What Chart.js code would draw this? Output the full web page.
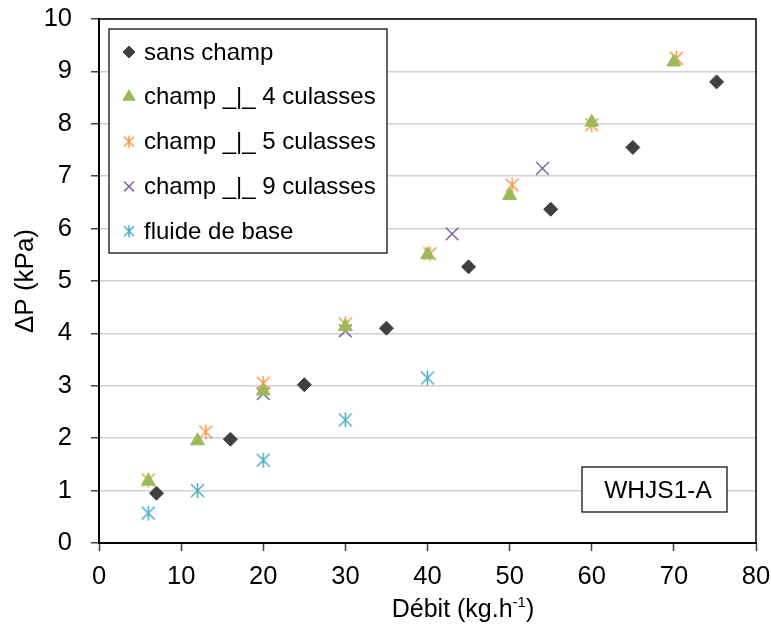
<!DOCTYPE html>
<html>
<head>
<meta charset="utf-8">
<script src="https://cdn.jsdelivr.net/npm/chart.js@4.4.0/dist/chart.umd.min.js"></script>
<style>
  html, body { margin: 0; padding: 0; background: #fff; }
  #wrap { width: 771px; height: 627px; position: relative; }
</style>
</head>
<body>
<div id="wrap"><canvas id="chart"></canvas></div>
<script>
// Débit (kg.h-1) / ΔP (kPa)
const sansChampX = [7, 16, 25, 35, 45, 55, 65, 75.2]
const sansChampY = [0.95, 1.98, 3.02, 4.1, 5.27, 6.37, 7.55, 8.8]

const champ4X = [6, 12, 20, 30, 40, 50, 60, 70]
const champ4Y = [1.18, 1.95, 2.9, 4.13, 5.5, 6.63, 8.03, 9.18]

const champ5X = [6, 13, 20, 30, 40.3, 50.3, 60, 70.3]
const champ5Y = [1.2, 2.12, 3.05, 4.18, 5.52, 6.83, 7.98, 9.25]

const champ9X = [20, 30, 43, 54]
const champ9Y = [2.85, 4.05, 5.9, 7.15]

const fluideX = [6, 12, 20, 30, 40]
const fluideY = [0.57, 1.0, 1.58, 2.35, 3.15]

const seriesLabels = [
  "sans champ",
  "champ _|_ 4 culasses",
  "champ _|_ 5 culasses",
  "champ _|_ 9 culasses",
  "fluide de base",
]

const FONT = '"Liberation Sans", Arial, sans-serif'

const toPoints = (xs, ys) => xs.map((x, i) => ({ x, y: ys[i] }))

// Excel style "star" marker: an x with a vertical bar
function starMarker(color, size) {
  const c = document.createElement("canvas")
  c.width = size
  c.height = size
  const g = c.getContext("2d")
  const m = size / 2
  const d = size / 2 - 2
  g.strokeStyle = color
  g.lineWidth = 1.5
  g.beginPath()
  g.moveTo(m, m - d - 1); g.lineTo(m, m + d + 1)
  g.moveTo(m - d, m - d); g.lineTo(m + d, m + d)
  g.moveTo(m + d, m - d); g.lineTo(m - d, m + d)
  g.stroke()
  return c
}

const orangeStar = starMarker("#F79646", 17)
const cyanStar = starMarker("#4BACC6", 17)
const orangeStarSmall = starMarker("#F79646", 14)
const cyanStarSmall = starMarker("#4BACC6", 14)

// frame around the plot, legend box, sample label, x title with superscript
const extras = {
  id: "extras",
  afterDraw(chart) {
    const ctx = chart.ctx
    const a = chart.chartArea
    ctx.save()
    ctx.strokeStyle = "#000"
    ctx.lineWidth = 1.5
    ctx.strokeRect(a.left, a.top, a.right - a.left, a.bottom - a.top)

    // legend
    ctx.fillStyle = "#fff"
    ctx.fillRect(109, 29, 278, 224)
    ctx.lineWidth = 1.2
    ctx.strokeRect(109, 29, 278, 224)
    ctx.font = "24px " + FONT
    ctx.textBaseline = "middle"
    const smallStyles = ["rectRot", "triangle", orangeStarSmall, "crossRot", cyanStarSmall]
    const radii = [6, 7, 6, 7, 6]
    chart.data.datasets.forEach((ds, i) => {
      const y = 52 + i * 44.8
      ctx.fillStyle = ds.backgroundColor
      ctx.strokeStyle = ds.borderColor
      ctx.lineWidth = ds.borderWidth
      Chart.helpers.drawPoint(ctx, { pointStyle: smallStyles[i], radius: radii[i], rotation: 0, borderWidth: ds.borderWidth }, 129, y)
      ctx.fillStyle = "#000"
      ctx.fillText(ds.label, 144, y + 1)
    })

    // sample label
    ctx.fillStyle = "#fff"
    ctx.fillRect(582, 467, 145, 45)
    ctx.strokeStyle = "#000"
    ctx.lineWidth = 1.2
    ctx.strokeRect(582, 467, 145, 45)
    ctx.fillStyle = "#000"
    ctx.textAlign = "center"
    ctx.font = "24.5px " + FONT
    ctx.fillText("WHJS1-A", 658, 491)

    // x axis title: Débit (kg.h-1)
    ctx.textAlign = "left"
    ctx.textBaseline = "alphabetic"
    const main = "Débit (kg.h"
    const sup = "-1"
    const close = ")"
    ctx.font = "25px " + FONT
    const w1 = ctx.measureText(main).width
    const w3 = ctx.measureText(close).width
    ctx.font = "15px " + FONT
    const w2 = ctx.measureText(sup).width
    let x = 463 - (w1 + w2 + w3) / 2
    const base = 617
    ctx.font = "25px " + FONT
    ctx.fillText(main, x, base)
    x += w1
    ctx.font = "15px " + FONT
    ctx.fillText(sup, x, base - 10)
    x += w2
    ctx.font = "25px " + FONT
    ctx.fillText(close, x, base)
    ctx.restore()
  },
}

const ctx = document.getElementById("chart").getContext("2d")

new Chart(ctx, {
  type: "scatter",
  data: {
    datasets: [
      {
        label: seriesLabels[0],
        data: toPoints(sansChampX, sansChampY),
        pointStyle: "rectRot",
        pointRadius: 7,
        backgroundColor: "#404040",
        borderColor: "#404040",
        borderWidth: 1,
      },
      {
        label: seriesLabels[1],
        data: toPoints(champ4X, champ4Y),
        pointStyle: "triangle",
        pointRadius: 8,
        backgroundColor: "#9BBB59",
        borderColor: "#9BBB59",
        borderWidth: 1,
      },
      {
        label: seriesLabels[2],
        data: toPoints(champ5X, champ5Y),
        pointStyle: orangeStar,
        pointRadius: 8,
        backgroundColor: "#F79646",
        borderColor: "#F79646",
        borderWidth: 1.5,
      },
      {
        label: seriesLabels[3],
        data: toPoints(champ9X, champ9Y),
        pointStyle: "crossRot",
        pointRadius: 9,
        backgroundColor: "#8064A2",
        borderColor: "#8064A2",
        borderWidth: 1.5,
      },
      {
        label: seriesLabels[4],
        data: toPoints(fluideX, fluideY),
        pointStyle: cyanStar,
        pointRadius: 8,
        backgroundColor: "#4BACC6",
        borderColor: "#4BACC6",
        borderWidth: 1.5,
      },
    ],
  },
  options: {
    responsive: true,
    maintainAspectRatio: false,
    animation: false,
    layout: { padding: { top: 19, right: 15, left: 0, bottom: 0 } },
    plugins: {
      legend: { display: false },
      tooltip: { enabled: false },
    },
    scales: {
      x: {
        type: "linear",
        min: 0,
        max: 80,
        afterFit: (s) => { s.height = 84; s.paddingLeft = 0; s.paddingRight = 0 },
        ticks: {
          stepSize: 10,
          padding: 11,
          color: "#000",
          font: { family: FONT, size: 25.5 },
        },
        grid: {
          drawOnChartArea: false,
          tickLength: 8,
          tickColor: "#404040",
          tickWidth: 1.5,
        },
        border: { color: "#000", width: 2 },
      },
      y: {
        min: 0,
        max: 10,
        afterFit: (s) => { s.width = 99; s.paddingTop = 0; s.paddingBottom = 0 },
        ticks: {
          stepSize: 1,
          padding: 19,
          color: "#000",
          font: { family: FONT, size: 25.5 },
        },
        grid: {
          color: "#d0d0d0",
          lineWidth: 1.5,
          tickLength: 8,
          tickColor: "#404040",
          tickWidth: 1.5,
        },
        border: { color: "#000", width: 2 },
        title: {
          display: true,
          text: "ΔP (kPa)",
          color: "#000",
          font: { family: FONT, size: 26 },
          padding: { top: 10, bottom: 0 },
        },
      },
    },
  },
  plugins: [extras],
})
</script>
</body>
</html>
